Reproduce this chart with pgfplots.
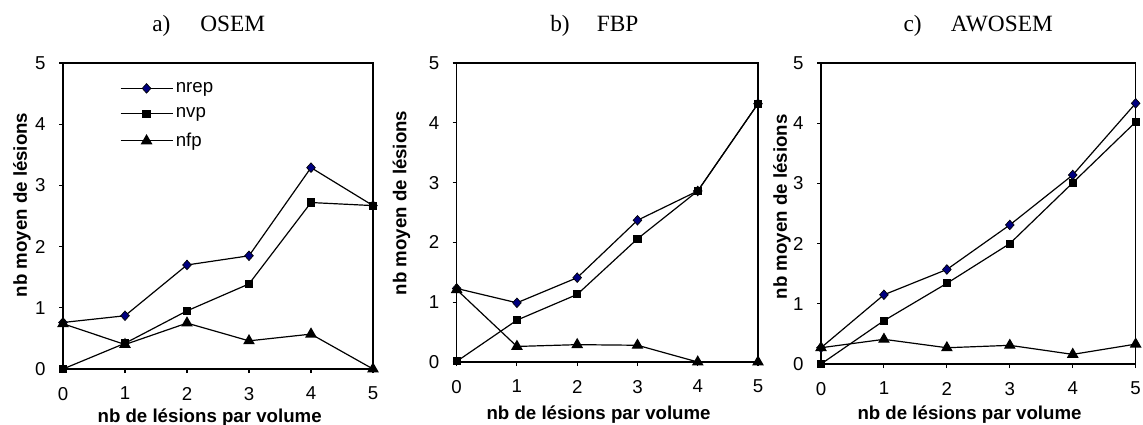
\documentclass[border=0pt]{standalone}
\usepackage{fontspec}
\setmainfont{Liberation Sans}
\newfontfamily\titlefont{Liberation Serif}
\usepackage{pgfplots}
\pgfplotsset{compat=1.18}
\usepackage{pgfplotstable}

\definecolor{navy}{HTML}{000080}

% x nrep nvp nfp
\pgfplotstableread{
x nrep nvp nfp
0 0.76 0.00 0.74
1 0.87 0.42 0.40
2 1.70 0.95 0.75
3 1.85 1.39 0.46
4 3.29 2.72 0.57
5 2.67 2.67 0.00
}\osem
\pgfplotstableread{
x nrep nvp nfp
0 1.23 0.01 1.21
1 0.99 0.70 0.26
2 1.41 1.13 0.29
3 2.37 2.06 0.28
4 2.86 2.86 0.00
5 4.32 4.32 0.00
}\fbp
\pgfplotstableread{
x nrep nvp nfp
0 0.27 0.00 0.27
1 1.15 0.72 0.41
2 1.57 1.34 0.27
3 2.31 2.00 0.31
4 3.14 3.01 0.16
5 4.33 4.02 0.33
}\awosem

\newcommand\ttlfont{\titlefont\fontsize{17.5}{18}\selectfont}

\pgfplotsset{
  lesions/.style={
    scale only axis,
    anchor=south west,
    xmin=0, xmax=5, ymin=0, ymax=5,
    xtick={0,...,5}, ytick={0,...,5},
    xticklabels={0,1,2,3,4,5},
    yticklabels={0,1,2,3,4,5},
    tick label style={font=\mdseries\fontsize{14}{16}\selectfont},
    tick align=outside,
    major tick length=3pt,
    tick style={black, line width=0.8pt},
    xtick pos=bottom, ytick pos=left,
    axis line style={black, line width=0.9pt},
    yticklabel shift=6.5pt,
    xticklabel shift=7pt,
    label style={font=\bfseries\fontsize{14}{15}\selectfont, inner sep=0pt},
    ylabel style={anchor=center, rotate=0},
    xlabel style={anchor=center},
    clip=false,
    every axis plot/.append style={black, line width=0.9pt},
    legend image code/.code={\draw[mark repeat=2,mark phase=2,##1] plot coordinates {(0pt,0pt) (19.5pt,0pt) (39pt,0pt)};},
  },
  pnrep/.style={mark=diamond*, mark size=3.6pt, mark options={xscale=1.2, fill=navy, draw=black, line width=0.5pt}},
  pnvp/.style={mark=square*, mark size=2.6pt, mark options={fill=black}},
  pnfp/.style={mark=triangle*, mark size=4.2pt, mark options={fill=black}},
}

\begin{document}
\begin{tikzpicture}
\useasboundingbox (0,0) rectangle (857.25pt,318.75pt);

% titles
\node[anchor=base west, font=\ttlfont, inner sep=0pt] at (114pt,294.75pt) {a)};
\node[anchor=base west, font=\ttlfont, inner sep=0pt] at (150pt,294.75pt) {OSEM};
\node[anchor=base west, font=\ttlfont, inner sep=0pt] at (412.5pt,294.75pt) {b)};
\node[anchor=base west, font=\ttlfont, inner sep=0pt] at (447.5pt,294.75pt) {FBP};
\node[anchor=base west, font=\ttlfont, inner sep=0pt] at (677.5pt,294.75pt) {c)};
\node[anchor=base west, font=\ttlfont, inner sep=0pt] at (713pt,294.75pt) {AWOSEM};

% a) OSEM
\begin{axis}[lesions,
  at={(47.25pt,42pt)}, width=232.5pt, height=229.5pt,
  xlabel={nb de lésions par volume},
  ylabel={nb moyen de lésions},
  xlabel style={at={(axis description cs:0.473,-0.160)}},
  ylabel style={at={(axis description cs:-0.132,0.536)}},
  legend style={draw=none, fill=none, at={(0.17,0.955)}, anchor=north west,
    font=\mdseries\fontsize{14}{16}\selectfont, row sep=6pt, legend cell align=left},
]
\addplot[pnrep] table[x=x, y=nrep] {\osem};
\addplot[pnvp] table[x=x, y=nvp] {\osem};
\addplot[pnfp] table[x=x, y=nfp] {\osem};
\legend{nrep, nvp, nfp}
\end{axis}

% b) FBP
\begin{axis}[lesions,
  at={(342.5pt,47.25pt)}, width=226pt, height=224.25pt,
  xlabel={nb de lésions par volume},
  ylabel={nb moyen de lésions},
  xlabel style={at={(axis description cs:0.471,-0.177)}},
  ylabel style={at={(axis description cs:-0.183,0.532)}},
]
\addplot[pnrep] table[x=x, y=nrep] {\fbp};
\addplot[pnvp] table[x=x, y=nvp] {\fbp};
\addplot[pnfp] table[x=x, y=nfp] {\fbp};
\end{axis}

% c) AWOSEM
\begin{axis}[lesions,
  at={(615.75pt,45.75pt)}, width=236pt, height=225.75pt,
  xlabel={nb de lésions par volume},
  ylabel={nb moyen de lésions},
  xlabel style={at={(axis description cs:0.472,-0.169)}},
  ylabel style={at={(axis description cs:-0.124,0.522)}},
]
\addplot[pnrep] table[x=x, y=nrep] {\awosem};
\addplot[pnvp] table[x=x, y=nvp] {\awosem};
\addplot[pnfp] table[x=x, y=nfp] {\awosem};
\end{axis}
\end{tikzpicture}
\end{document}
